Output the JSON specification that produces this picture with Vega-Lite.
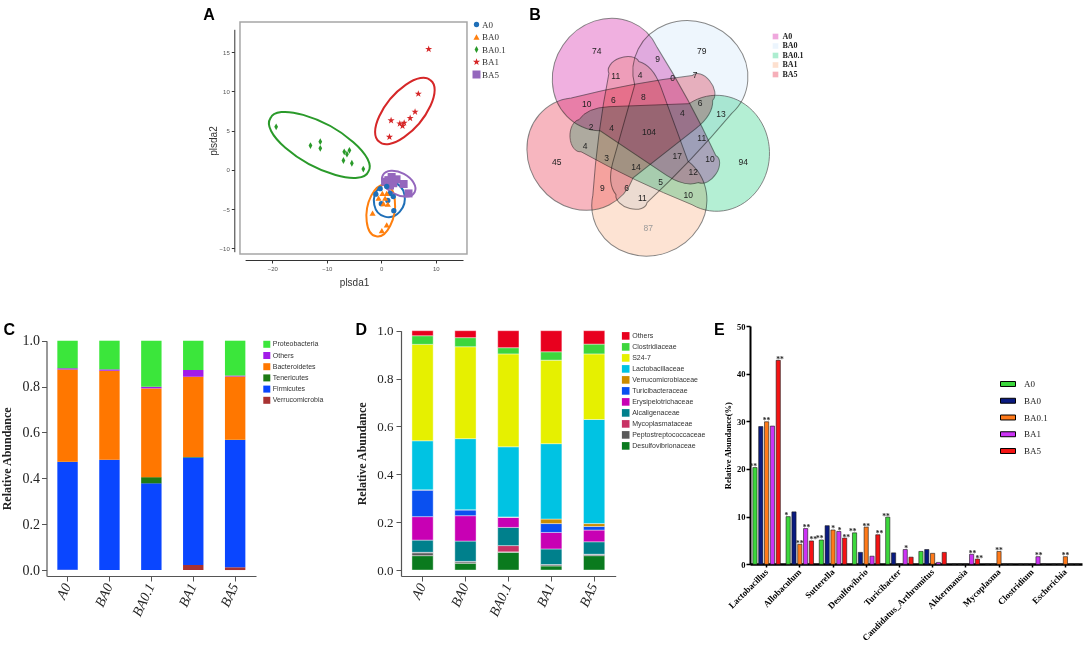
{
"$schema": "https://vega.github.io/schema/vega-lite/v6.json",
"width": 1084, "height": 652, "autosize": {"type": "none"}, "padding": 0, "background": "white",
"config": {"view": {"stroke": null}, "axis": {"grid": false}, "legend": {"padding": 0, "titlePadding": 0}},
"resolve": {
  "scale": {"x": "independent", "y": "independent", "color": "independent", "fill": "independent", "shape": "independent", "size": "independent", "angle": "independent", "xOffset": "independent"},
  "axis": {"x": "independent", "y": "independent"},
  "legend": {"color": "independent", "fill": "independent", "shape": "independent", "size": "independent"}
},
"datasets": {
  "apts": [
    {"g":"BA0.1","x":-19.3,"y":5.5},{"g":"BA0.1","x":-13.0,"y":3.1},{"g":"BA0.1","x":-11.2,"y":3.6},{"g":"BA0.1","x":-11.2,"y":2.75},{"g":"BA0.1","x":-6.8,"y":2.3},{"g":"BA0.1","x":-5.85,"y":2.5},{"g":"BA0.1","x":-6.3,"y":2.0},{"g":"BA0.1","x":-6.95,"y":1.2},{"g":"BA0.1","x":-5.4,"y":0.85},{"g":"BA0.1","x":-3.3,"y":0.1},
    {"g":"BA1","x":8.7,"y":15.4},{"g":"BA1","x":6.8,"y":9.7},{"g":"BA1","x":6.2,"y":7.4},{"g":"BA1","x":5.3,"y":6.6},{"g":"BA1","x":4.2,"y":6.0},{"g":"BA1","x":3.4,"y":5.9},{"g":"BA1","x":3.9,"y":5.6},{"g":"BA1","x":1.8,"y":6.3},{"g":"BA1","x":1.5,"y":4.2},
    {"g":"BA5","x":1.9,"y":-0.9},{"g":"BA5","x":0.7,"y":-1.5},{"g":"BA5","x":2.2,"y":-1.7},{"g":"BA5","x":4.1,"y":-1.8},{"g":"BA5","x":5.0,"y":-3.0},{"g":"BA5","x":1.3,"y":-1.3},{"g":"BA5","x":2.8,"y":-1.2},{"g":"BA5","x":1.6,"y":-2.0},
    {"g":"A0","x":-0.2,"y":-2.4},{"g":"A0","x":1.0,"y":-2.1},{"g":"A0","x":-1.0,"y":-3.1},{"g":"A0","x":2.2,"y":-3.4},{"g":"A0","x":1.2,"y":-3.9},{"g":"A0","x":0.0,"y":-4.3},{"g":"A0","x":2.3,"y":-5.2},{"g":"A0","x":1.6,"y":-3.0},
    {"g":"BA0","x":0.2,"y":-3.0},{"g":"BA0","x":1.0,"y":-3.0},{"g":"BA0","x":0.7,"y":-3.6},{"g":"BA0","x":-0.5,"y":-3.6},{"g":"BA0","x":0.4,"y":-4.3},{"g":"BA0","x":1.2,"y":-4.35},{"g":"BA0","x":-1.6,"y":-5.5},{"g":"BA0","x":0.1,"y":-7.75},{"g":"BA0","x":1.0,"y":-7.0}
  ],
  "aell": [
    {"g":"A0","x":1.48,"y":-3.8},{"g":"BA0","x":-0.1,"y":-5.2},{"g":"BA0.1","x":-11.37,"y":3.18},{"g":"BA1","x":4.33,"y":7.51},{"g":"BA5","x":3.2,"y":-1.76}
  ],
  "vsets": [{"set":"A0"},{"set":"BA0"},{"set":"BA0.1"},{"set":"BA1"},{"set":"BA5"}],
  "vnum": [
    {"n":"74","vx":-52.3,"vy":-80.7},{"n":"79","vx":52.7,"vy":-80.7},{"n":"9","vx":8.7,"vy":-72.4},{"n":"11","vx":-33.3,"vy":-55.7},{"n":"4","vx":-9,"vy":-56.7},{"n":"0","vx":23.7,"vy":-54},{"n":"7","vx":46,"vy":-56.7},{"n":"10","vx":-62.3,"vy":-27.4},{"n":"6","vx":-35.7,"vy":-31.7},{"n":"8","vx":-5.7,"vy":-35},{"n":"6","vx":51,"vy":-28.4},{"n":"13","vx":72,"vy":-17.4},{"n":"4","vx":33.3,"vy":-18.4},{"n":"2","vx":-58,"vy":-5},{"n":"4","vx":-37.3,"vy":-3.4},{"n":"104","vx":0,"vy":0},{"n":"11","vx":52.7,"vy":6},{"n":"4","vx":-64,"vy":14},{"n":"3","vx":-42.3,"vy":26.6},{"n":"14","vx":-13,"vy":35.6},{"n":"17","vx":28.3,"vy":24.3},{"n":"10","vx":61,"vy":27.6},{"n":"94","vx":94.3,"vy":30},{"n":"45","vx":-92.3,"vy":30},{"n":"12","vx":44.3,"vy":40},{"n":"9","vx":-46.7,"vy":56},{"n":"6","vx":-22.3,"vy":56.6},{"n":"5","vx":11.7,"vy":50},{"n":"10","vx":39.3,"vy":63.3},{"n":"11","vx":-6.7,"vy":66.6},{"n":"87","vx":-0.7,"vy":96.6}
  ],
  "cphy": [
    {"s":"A0","t":"Verrucomicrobia","v":0.001},{"s":"A0","t":"Firmicutes","v":0.470},{"s":"A0","t":"Tenericutes","v":0.001},{"s":"A0","t":"Bacteroidetes","v":0.402},{"s":"A0","t":"Others","v":0.006},{"s":"A0","t":"Proteobacteria","v":0.120},
    {"s":"BA0","t":"Verrucomicrobia","v":0.0},{"s":"BA0","t":"Firmicutes","v":0.481},{"s":"BA0","t":"Tenericutes","v":0.0},{"s":"BA0","t":"Bacteroidetes","v":0.388},{"s":"BA0","t":"Others","v":0.006},{"s":"BA0","t":"Proteobacteria","v":0.125},
    {"s":"BA0.1","t":"Verrucomicrobia","v":0.0},{"s":"BA0.1","t":"Firmicutes","v":0.378},{"s":"BA0.1","t":"Tenericutes","v":0.027},{"s":"BA0.1","t":"Bacteroidetes","v":0.387},{"s":"BA0.1","t":"Others","v":0.007},{"s":"BA0.1","t":"Proteobacteria","v":0.201},
    {"s":"BA1","t":"Verrucomicrobia","v":0.022},{"s":"BA1","t":"Firmicutes","v":0.469},{"s":"BA1","t":"Tenericutes","v":0.002},{"s":"BA1","t":"Bacteroidetes","v":0.350},{"s":"BA1","t":"Others","v":0.029},{"s":"BA1","t":"Proteobacteria","v":0.128},
    {"s":"BA5","t":"Verrucomicrobia","v":0.012},{"s":"BA5","t":"Firmicutes","v":0.555},{"s":"BA5","t":"Tenericutes","v":0.001},{"s":"BA5","t":"Bacteroidetes","v":0.276},{"s":"BA5","t":"Others","v":0.004},{"s":"BA5","t":"Proteobacteria","v":0.152}
  ],
  "dfam": [
    {"s":"A0","t":"Desulfovibrionaceae","v":0.060},{"s":"A0","t":"Peptostreptococcaceae","v":0.012},{"s":"A0","t":"Mycoplasmataceae","v":0.002},{"s":"A0","t":"Alcaligenaceae","v":0.051},{"s":"A0","t":"Erysipelotrichaceae","v":0.098},{"s":"A0","t":"Turicibacteraceae","v":0.111},{"s":"A0","t":"Verrucomicrobiaceae","v":0.001},{"s":"A0","t":"Lactobacillaceae","v":0.205},{"s":"A0","t":"S24-7","v":0.403},{"s":"A0","t":"Clostridiaceae","v":0.036},{"s":"A0","t":"Others","v":0.021},
    {"s":"BA0","t":"Desulfovibrionaceae","v":0.028},{"s":"BA0","t":"Peptostreptococcaceae","v":0.006},{"s":"BA0","t":"Mycoplasmataceae","v":0.002},{"s":"BA0","t":"Alcaligenaceae","v":0.085},{"s":"BA0","t":"Erysipelotrichaceae","v":0.106},{"s":"BA0","t":"Turicibacteraceae","v":0.024},{"s":"BA0","t":"Verrucomicrobiaceae","v":0.001},{"s":"BA0","t":"Lactobacillaceae","v":0.297},{"s":"BA0","t":"S24-7","v":0.384},{"s":"BA0","t":"Clostridiaceae","v":0.038},{"s":"BA0","t":"Others","v":0.029},
    {"s":"BA0.1","t":"Desulfovibrionaceae","v":0.074},{"s":"BA0.1","t":"Peptostreptococcaceae","v":0.002},{"s":"BA0.1","t":"Mycoplasmataceae","v":0.026},{"s":"BA0.1","t":"Alcaligenaceae","v":0.076},{"s":"BA0.1","t":"Erysipelotrichaceae","v":0.042},{"s":"BA0.1","t":"Turicibacteraceae","v":0.001},{"s":"BA0.1","t":"Verrucomicrobiaceae","v":0.001},{"s":"BA0.1","t":"Lactobacillaceae","v":0.293},{"s":"BA0.1","t":"S24-7","v":0.388},{"s":"BA0.1","t":"Clostridiaceae","v":0.026},{"s":"BA0.1","t":"Others","v":0.071},
    {"s":"BA1","t":"Desulfovibrionaceae","v":0.017},{"s":"BA1","t":"Peptostreptococcaceae","v":0.005},{"s":"BA1","t":"Mycoplasmataceae","v":0.001},{"s":"BA1","t":"Alcaligenaceae","v":0.065},{"s":"BA1","t":"Erysipelotrichaceae","v":0.069},{"s":"BA1","t":"Turicibacteraceae","v":0.037},{"s":"BA1","t":"Verrucomicrobiaceae","v":0.019},{"s":"BA1","t":"Lactobacillaceae","v":0.315},{"s":"BA1","t":"S24-7","v":0.349},{"s":"BA1","t":"Clostridiaceae","v":0.035},{"s":"BA1","t":"Others","v":0.088},
    {"s":"BA5","t":"Desulfovibrionaceae","v":0.060},{"s":"BA5","t":"Peptostreptococcaceae","v":0.005},{"s":"BA5","t":"Mycoplasmataceae","v":0.001},{"s":"BA5","t":"Alcaligenaceae","v":0.052},{"s":"BA5","t":"Erysipelotrichaceae","v":0.049},{"s":"BA5","t":"Turicibacteraceae","v":0.015},{"s":"BA5","t":"Verrucomicrobiaceae","v":0.012},{"s":"BA5","t":"Lactobacillaceae","v":0.435},{"s":"BA5","t":"S24-7","v":0.274},{"s":"BA5","t":"Clostridiaceae","v":0.041},{"s":"BA5","t":"Others","v":0.056}
  ],
  "egen": [
    {"k":"Lactobacillus","g":"A0","v":20.3,"sig":"**"},{"k":"Lactobacillus","g":"BA0","v":28.9,"sig":""},{"k":"Lactobacillus","g":"BA0.1","v":29.9,"sig":"**"},{"k":"Lactobacillus","g":"BA1","v":29.0,"sig":""},{"k":"Lactobacillus","g":"BA5","v":42.8,"sig":"**"},
    {"k":"Allobaculum","g":"A0","v":10.0,"sig":"*"},{"k":"Allobaculum","g":"BA0","v":11.0,"sig":""},{"k":"Allobaculum","g":"BA0.1","v":4.2,"sig":"**"},{"k":"Allobaculum","g":"BA1","v":7.5,"sig":"**"},{"k":"Allobaculum","g":"BA5","v":4.9,"sig":"**"},
    {"k":"Sutterella","g":"A0","v":5.1,"sig":"**"},{"k":"Sutterella","g":"BA0","v":8.1,"sig":""},{"k":"Sutterella","g":"BA0.1","v":7.2,"sig":"*"},{"k":"Sutterella","g":"BA1","v":6.9,"sig":"*"},{"k":"Sutterella","g":"BA5","v":5.5,"sig":"**"},
    {"k":"Desulfovibrio","g":"A0","v":6.6,"sig":"**"},{"k":"Desulfovibrio","g":"BA0","v":2.5,"sig":""},{"k":"Desulfovibrio","g":"BA0.1","v":7.8,"sig":"**"},{"k":"Desulfovibrio","g":"BA1","v":1.7,"sig":""},{"k":"Desulfovibrio","g":"BA5","v":6.2,"sig":"**"},
    {"k":"Turicibacter","g":"A0","v":9.9,"sig":"**"},{"k":"Turicibacter","g":"BA0","v":2.4,"sig":""},{"k":"Turicibacter","g":"BA0.1","v":0,"sig":""},{"k":"Turicibacter","g":"BA1","v":3.1,"sig":"*"},{"k":"Turicibacter","g":"BA5","v":1.5,"sig":""},
    {"k":"Candidatus_Arthromitus","g":"A0","v":2.7,"sig":""},{"k":"Candidatus_Arthromitus","g":"BA0","v":3.1,"sig":""},{"k":"Candidatus_Arthromitus","g":"BA0.1","v":2.3,"sig":""},{"k":"Candidatus_Arthromitus","g":"BA1","v":0.4,"sig":""},{"k":"Candidatus_Arthromitus","g":"BA5","v":2.5,"sig":""},
    {"k":"Akkermansia","g":"A0","v":0,"sig":""},{"k":"Akkermansia","g":"BA0","v":0,"sig":""},{"k":"Akkermansia","g":"BA0.1","v":0,"sig":""},{"k":"Akkermansia","g":"BA1","v":2.1,"sig":"**"},{"k":"Akkermansia","g":"BA5","v":1.1,"sig":"**"},
    {"k":"Mycoplasma","g":"A0","v":0,"sig":""},{"k":"Mycoplasma","g":"BA0","v":0,"sig":""},{"k":"Mycoplasma","g":"BA0.1","v":2.7,"sig":"**"},{"k":"Mycoplasma","g":"BA1","v":0,"sig":""},{"k":"Mycoplasma","g":"BA5","v":0,"sig":""},
    {"k":"Clostridium","g":"A0","v":0,"sig":""},{"k":"Clostridium","g":"BA0","v":0,"sig":""},{"k":"Clostridium","g":"BA0.1","v":0,"sig":""},{"k":"Clostridium","g":"BA1","v":1.6,"sig":"**"},{"k":"Clostridium","g":"BA5","v":0,"sig":""},
    {"k":"Escherichia","g":"A0","v":0,"sig":""},{"k":"Escherichia","g":"BA0","v":0,"sig":""},{"k":"Escherichia","g":"BA0.1","v":1.6,"sig":"**"},{"k":"Escherichia","g":"BA1","v":0,"sig":""},{"k":"Escherichia","g":"BA5","v":0,"sig":""}
  ]
},
"layer": [
  {
    "data": {"values": [{}]},
    "mark": {"type": "rect", "fill": "transparent", "stroke": "#a6a6a6", "strokeWidth": 1.5},
    "encoding": {
      "x": {"datum": -25.94, "type": "quantitative", "scale": {"domain": [-25, 15], "range": [245.1, 463], "nice": false, "zero": false}, "axis": null},
      "x2": {"datum": 15.73},
      "y": {"datum": -10.73, "type": "quantitative", "scale": {"domain": [-10.43, 17.93], "range": [251.7, 29.3], "nice": false, "zero": false}, "axis": null},
      "y2": {"datum": 18.86}
    }
  },
  {
    "data": {"name": "aell"},
    "mark": {"type": "point", "filled": false, "strokeWidth": 2, "opacity": 1, "size": 4},
    "encoding": {
      "x": {"field": "x", "type": "quantitative", "scale": {"domain": [-25, 15], "range": [245.1, 463], "nice": false, "zero": false}, "axis": null},
      "y": {"field": "y", "type": "quantitative", "scale": {"domain": [-10.43, 17.93], "range": [251.7, 29.3], "nice": false, "zero": false}, "axis": null},
      "color": {"field": "g", "type": "nominal", "scale": {"domain": ["A0", "BA0", "BA0.1", "BA1", "BA5"], "range": ["#1f6fb8", "#ff7f0e", "#2a9a2a", "#d62728", "#9467bd"]}, "legend": null},
      "shape": {"field": "g", "type": "nominal", "scale": {"domain": ["A0", "BA0", "BA0.1", "BA1", "BA5"], "range": [
        "M -4.53 16.9 A 17.5 15 -75 1 1 4.53 -16.9 A 17.5 15 -75 1 1 -4.53 16.9 Z",
        "M -4.51 25.6 A 26 13.5 -80 1 1 4.51 -25.6 A 26 13.5 -80 1 1 -4.51 25.6 Z",
        "M -49 -26.6 A 55.8 20.8 28.5 1 1 49 26.6 A 55.8 20.8 28.5 1 1 -49 -26.6 Z",
        "M -25.7 30.6 A 40 18 -50 1 1 25.7 -30.6 A 40 18 -50 1 1 -25.7 30.6 Z",
        "M -15.9 -8.45 A 18 11 28 1 1 15.9 8.45 A 18 11 28 1 1 -15.9 -8.45 Z"]}, "legend": null}
    }
  },
  {
    "data": {"name": "apts"},
    "mark": {"type": "point", "filled": true, "opacity": 1},
    "encoding": {
      "x": {"field": "x", "type": "quantitative", "scale": {"domain": [-25, 15], "range": [245.1, 463], "nice": false, "zero": false},
        "axis": {"orient": "bottom", "offset": -392, "values": [-20, -10, 0, 10], "labelFontSize": 6, "labelColor": "#555", "labelFont": "Liberation Sans", "tickSize": 3, "tickColor": "#333", "domainColor": "#333", "title": "plsda1", "titleFont": "Liberation Sans", "titleFontSize": 10, "titleFontWeight": "normal", "titleColor": "#333", "titlePadding": 6, "labelFlush": false}},
      "y": {"field": "y", "type": "quantitative", "scale": {"domain": [-10.43, 17.93], "range": [251.7, 29.3], "nice": false, "zero": false},
        "axis": {"orient": "left", "offset": -234.3, "values": [-10, -5, 0, 5, 10, 15], "labelFontSize": 6, "labelColor": "#555", "labelFont": "Liberation Sans", "tickSize": 3, "tickColor": "#333", "domainColor": "#333", "title": "plsda2", "titleFont": "Liberation Sans", "titleFontSize": 10, "titleFontWeight": "normal", "titleColor": "#333", "titlePadding": 1}},
      "color": {"field": "g", "type": "nominal", "scale": {"domain": ["A0", "BA0", "BA0.1", "BA1", "BA5"], "range": ["#1f6fb8", "#ff7f0e", "#2a9a2a", "#d62728", "#9467bd"]},
        "legend": {"orient": "none", "legendX": 472, "legendY": 20, "title": null, "labelFont": "Liberation Serif", "labelFontSize": 9, "labelColor": "#333", "labelOffset": 1, "rowPadding": 2.5, "symbolStrokeWidth": 0}},
      "shape": {"field": "g", "type": "nominal", "scale": {"domain": ["A0", "BA0", "BA0.1", "BA1", "BA5"], "range": ["circle", "triangle-up", "M0,-1L0.55,0L0,1L-0.55,0Z", "M0,-1L0.235,-0.324L0.951,-0.309L0.38,0.124L0.588,0.809L0,0.4L-0.588,0.809L-0.38,0.124L-0.951,-0.309L-0.235,-0.324Z", "square"]},
        "legend": {"orient": "none", "legendX": 472, "legendY": 20, "title": null, "labelFont": "Liberation Serif", "labelFontSize": 9, "labelColor": "#333", "labelOffset": 1, "rowPadding": 2.5, "symbolStrokeWidth": 0}},
      "size": {"field": "g", "type": "nominal", "scale": {"domain": ["A0", "BA0", "BA0.1", "BA1", "BA5"], "range": [28, 64, 120, 170, 32]},
        "legend": {"orient": "none", "legendX": 472, "legendY": 20, "title": null, "labelFont": "Liberation Serif", "labelFontSize": 9, "labelColor": "#333", "labelOffset": 1, "rowPadding": 2.5, "symbolStrokeWidth": 0}}
    }
  },
  {
    "data": {"values": [{}]},
    "mark": {"type": "text", "text": "A", "font": "Liberation Sans", "fontWeight": "bold", "fontSize": 16, "align": "center", "baseline": "alphabetic", "color": "#000"},
    "encoding": {
      "x": {"datum": -31.62, "type": "quantitative", "scale": {"domain": [-25, 15], "range": [245.1, 463], "nice": false, "zero": false}, "axis": null},
      "y": {"datum": 19.12, "type": "quantitative", "scale": {"domain": [-10.43, 17.93], "range": [251.7, 29.3], "nice": false, "zero": false}, "axis": null}
    }
  },
  {
    "data": {"name": "vsets"},
    "mark": {"type": "point", "filled": true, "size": 4, "blend": "multiply", "shape": "M -70 -12 Q -62 -24 -40 -25 L 40 -28 A 53 58 0 1 1 43 73 Q -14 50 -68 20 A 10 16 0 0 1 -70 -12 Z", "fillOpacity": 0.5, "stroke": "#6a6a6a", "strokeOpacity": 0.8, "strokeWidth": 1},
    "encoding": {
      "x": {"datum": 0, "type": "quantitative", "scale": {"domain": [-130, 130], "range": [519, 779], "nice": false, "zero": false}, "axis": null},
      "y": {"datum": 0, "type": "quantitative", "scale": {"domain": [-130, 130], "range": [1.7, 261.7], "nice": false, "zero": false}, "axis": null},
      "angle": {"field": "set", "type": "nominal", "scale": {"type": "point", "domain": ["BA0.1", "BA1", "BA5", "A0", "BA0"], "range": [0, 288], "padding": 0}, "legend": null},
      "fill": {"field": "set", "type": "nominal", "scale": {"domain": ["A0", "BA0", "BA0.1", "BA1", "BA5"], "range": ["#e161c1", "#ddedfb", "#69dfa9", "#fbc7a7", "#ef6d7f"]},
        "legend": {"orient": "none", "legendX": 771.5, "legendY": 32.5, "title": null, "symbolType": "square", "symbolSize": 32, "symbolStrokeWidth": 0, "symbolOpacity": 0.55, "labelFont": "Liberation Serif", "labelFontWeight": "bold", "labelFontSize": 8, "labelColor": "#222", "labelOffset": 3, "rowPadding": 1.5}}
    }
  },
  {
    "data": {"name": "vnum"},
    "mark": {"type": "text", "font": "Liberation Sans", "fontSize": 8.5, "align": "center", "baseline": "middle"},
    "encoding": {
      "x": {"field": "vx", "type": "quantitative", "scale": {"domain": [-130, 130], "range": [519, 779], "nice": false, "zero": false}, "axis": null},
      "y": {"field": "vy", "type": "quantitative", "scale": {"domain": [-130, 130], "range": [1.7, 261.7], "nice": false, "zero": false}, "axis": null},
      "text": {"field": "n"},
      "color": {"condition": {"test": "datum.n === '87'", "value": "#9a9a9a"}, "value": "#222"}
    }
  },
  {
    "data": {"values": [{}]},
    "mark": {"type": "text", "text": "B", "font": "Liberation Sans", "fontWeight": "bold", "fontSize": 16, "align": "center", "baseline": "alphabetic", "color": "#000"},
    "encoding": {
      "x": {"datum": -114, "type": "quantitative", "scale": {"domain": [-130, 130], "range": [519, 779], "nice": false, "zero": false}, "axis": null},
      "y": {"datum": -111.7, "type": "quantitative", "scale": {"domain": [-130, 130], "range": [1.7, 261.7], "nice": false, "zero": false}, "axis": null}
    }
  },
  {
    "data": {"name": "cphy"},
    "transform": [{"window": [{"op": "row_number", "as": "k"}], "groupby": ["s"]}],
    "mark": {"type": "bar"},
    "encoding": {
      "x": {"field": "s", "type": "nominal", "sort": null, "scale": {"domain": ["A0", "BA0", "BA0.1", "BA1", "BA5"], "range": [46.7, 256], "paddingInner": 0.513, "paddingOuter": 0.254},
        "axis": {"orient": "bottom", "offset": -76, "title": null, "labelAngle": -65, "labelAlign": "right", "labelBaseline": "middle", "labelFont": "Liberation Serif", "labelFontStyle": "italic", "labelFontSize": 14, "labelColor": "#222", "tickSize": 5, "tickColor": "#555", "domainColor": "#555", "domainWidth": 1.2, "labelPadding": 3}},
      "y": {"field": "v", "type": "quantitative", "stack": "zero", "scale": {"domain": [-0.026, 1], "range": [576, 340.7], "nice": false, "zero": false},
        "axis": {"orient": "left", "offset": -46.5, "values": [0, 0.2, 0.4, 0.6, 0.8, 1], "format": ".1f", "labelFont": "Liberation Serif", "labelFontSize": 14, "labelColor": "#222", "tickSize": 5, "tickColor": "#555", "domainColor": "#555", "domainWidth": 1.2, "labelPadding": 2, "title": "Relative Abundance", "titleFont": "Liberation Serif", "titleFontSize": 12, "titleFontWeight": "bold", "titleColor": "#222", "titlePadding": 9}},
      "order": {"field": "k", "type": "quantitative", "sort": "ascending"},
      "color": {"field": "t", "type": "nominal", "scale": {"domain": ["Proteobacteria", "Others", "Bacteroidetes", "Tenericutes", "Firmicutes", "Verrucomicrobia"], "range": ["#3be63b", "#a21ce8", "#ff7700", "#1e7a14", "#0a46ff", "#a83232"]},
        "legend": {"orient": "none", "legendX": 263.3, "legendY": 340.8, "title": null, "symbolType": "square", "symbolSize": 49, "symbolStrokeWidth": 0, "labelFont": "Liberation Sans", "labelFontSize": 7, "labelColor": "#333", "labelOffset": 2.5, "rowPadding": 3.2}}
    }
  },
  {
    "data": {"values": [{}]},
    "mark": {"type": "text", "text": "C", "font": "Liberation Sans", "fontWeight": "bold", "fontSize": 16, "align": "center", "baseline": "alphabetic", "color": "#000", "dx": -58.3},
    "encoding": {
      "x": {"datum": "A0", "type": "nominal", "scale": {"domain": ["A0", "BA0", "BA0.1", "BA1", "BA5"], "range": [46.7, 256], "paddingInner": 0.513, "paddingOuter": 0.254}, "axis": null},
      "y": {"datum": 1.025, "type": "quantitative", "scale": {"domain": [-0.026, 1], "range": [576, 340.7], "nice": false, "zero": false}, "axis": null}
    }
  },
  {
    "data": {"name": "dfam"},
    "transform": [{"window": [{"op": "row_number", "as": "k"}], "groupby": ["s"]}],
    "mark": {"type": "bar", "stroke": "white", "strokeWidth": 0.4},
    "encoding": {
      "x": {"field": "s", "type": "nominal", "sort": null, "scale": {"domain": ["A0", "BA0", "BA0.1", "BA1", "BA5"], "range": [401, 615.7], "paddingInner": 0.505, "paddingOuter": 0.255},
        "axis": {"orient": "bottom", "offset": -76, "title": null, "labelAngle": -65, "labelAlign": "right", "labelBaseline": "middle", "labelFont": "Liberation Serif", "labelFontStyle": "italic", "labelFontSize": 14, "labelColor": "#222", "tickSize": 5, "tickColor": "#555", "domainColor": "#555", "domainWidth": 1.2, "labelPadding": 3}},
      "y": {"field": "v", "type": "quantitative", "stack": "zero", "scale": {"domain": [-0.025, 1], "range": [576, 330.7], "nice": false, "zero": false},
        "axis": {"orient": "left", "offset": -401, "values": [0, 0.2, 0.4, 0.6, 0.8, 1], "format": ".1f", "labelFont": "Liberation Serif", "labelFontSize": 13, "labelColor": "#222", "tickSize": 5, "tickColor": "#555", "domainColor": "#555", "domainWidth": 1.2, "labelPadding": 3, "title": "Relative Abundance", "titleFont": "Liberation Serif", "titleFontSize": 12, "titleFontWeight": "bold", "titleColor": "#222", "titlePadding": 8}},
      "order": {"field": "k", "type": "quantitative", "sort": "ascending"},
      "color": {"field": "t", "type": "nominal", "scale": {"domain": ["Others", "Clostridiaceae", "S24-7", "Lactobacillaceae", "Verrucomicrobiaceae", "Turicibacteraceae", "Erysipelotrichaceae", "Alcaligenaceae", "Mycoplasmataceae", "Peptostreptococcaceae", "Desulfovibrionaceae"], "range": ["#e8001e", "#3dd63d", "#e6f000", "#00c3e3", "#cc8c00", "#0a50f0", "#c800b4", "#00808c", "#c83264", "#5a5a5a", "#0a7a1e"]},
        "legend": {"orient": "none", "legendX": 621.7, "legendY": 331.9, "title": null, "symbolType": "square", "symbolSize": 58, "symbolStrokeWidth": 0, "labelFont": "Liberation Sans", "labelFontSize": 7, "labelColor": "#333", "labelOffset": 2.5, "rowPadding": 3}}
    }
  },
  {
    "data": {"values": [{}]},
    "mark": {"type": "text", "text": "D", "font": "Liberation Sans", "fontWeight": "bold", "fontSize": 16, "align": "center", "baseline": "alphabetic", "color": "#000", "dx": -61.3},
    "encoding": {
      "x": {"datum": "A0", "type": "nominal", "scale": {"domain": ["A0", "BA0", "BA0.1", "BA1", "BA5"], "range": [401, 615.7], "paddingInner": 0.505, "paddingOuter": 0.255}, "axis": null},
      "y": {"datum": 0.982, "type": "quantitative", "scale": {"domain": [-0.025, 1], "range": [576, 330.7], "nice": false, "zero": false}, "axis": null}
    }
  },
  {
    "data": {"name": "egen"},
    "mark": {"type": "bar", "stroke": "#1a1a1a", "strokeWidth": 0.6},
    "encoding": {
      "x": {"field": "k", "type": "nominal", "sort": null, "scale": {"domain": ["Lactobacillus", "Allobaculum", "Sutterella", "Desulfovibrio", "Turicibacter", "Candidatus_Arthromitus", "Akkermansia", "Mycoplasma", "Clostridium", "Escherichia"], "range": [750, 1082], "paddingInner": 0, "paddingOuter": 0},
        "axis": {"orient": "bottom", "offset": -88, "title": null, "labelAngle": -45, "labelAlign": "right", "labelBaseline": "middle", "labelFont": "Liberation Serif", "labelFontWeight": "bold", "labelFontSize": 9, "labelColor": "#000", "labelPadding": 3, "labelLimit": 0, "labelOverlap": false, "tickSize": 3, "tickWidth": 1.5, "tickColor": "#000", "domainColor": "#000", "domainWidth": 2.5}},
      "xOffset": {"field": "g", "type": "nominal", "scale": {"domain": ["A0", "BA0", "BA0.1", "BA1", "BA5"], "paddingInner": 0.28, "paddingOuter": 0.49}},
      "y": {"field": "v", "type": "quantitative", "scale": {"domain": [0, 50], "range": [564.3, 326], "nice": false, "zero": false},
        "axis": {"orient": "left", "offset": -750, "values": [0, 10, 20, 30, 40, 50], "domainColor": "#000", "domainWidth": 2, "tickColor": "#000", "tickWidth": 1.5, "tickSize": 4, "labelFont": "Liberation Serif", "labelFontWeight": "bold", "labelFontSize": 8.5, "labelColor": "#000", "labelPadding": 1, "title": "Relative Abundance(%)", "titleFont": "Liberation Serif", "titleFontWeight": "bold", "titleFontSize": 8.5, "titleColor": "#000", "titlePadding": 4}},
      "color": {"field": "g", "type": "nominal", "scale": {"domain": ["A0", "BA0", "BA0.1", "BA1", "BA5"], "range": ["#3cd83c", "#0a1a80", "#ff7a1a", "#cc33f5", "#f51414"]},
        "legend": {"orient": "none", "legendX": 1000, "legendY": 376, "title": null, "symbolType": "M-1,-0.33H1V0.33H-1Z", "symbolSize": 225, "symbolStrokeColor": "#000", "symbolStrokeWidth": 1, "labelFont": "Liberation Serif", "labelFontSize": 9, "labelColor": "#222", "labelOffset": 8, "rowPadding": 3.75}}
    }
  },
  {
    "data": {"name": "egen"},
    "transform": [{"filter": "datum.sig !== ''"}],
    "mark": {"type": "text", "font": "Liberation Serif", "fontWeight": "bold", "fontSize": 7.5, "align": "center", "baseline": "alphabetic", "dy": 1.5, "color": "#222"},
    "encoding": {
      "x": {"field": "k", "type": "nominal", "sort": null, "scale": {"domain": ["Lactobacillus", "Allobaculum", "Sutterella", "Desulfovibrio", "Turicibacter", "Candidatus_Arthromitus", "Akkermansia", "Mycoplasma", "Clostridium", "Escherichia"], "range": [750, 1082], "paddingInner": 0, "paddingOuter": 0}, "axis": null},
      "xOffset": {"field": "g", "type": "nominal", "scale": {"domain": ["A0", "BA0", "BA0.1", "BA1", "BA5"], "paddingInner": 0.28, "paddingOuter": 0.49}},
      "y": {"field": "v", "type": "quantitative", "scale": {"domain": [0, 50], "range": [564.3, 326], "nice": false, "zero": false}, "axis": null},
      "text": {"field": "sig"}
    }
  },
  {
    "data": {"values": [{}]},
    "mark": {"type": "text", "text": "E", "font": "Liberation Sans", "fontWeight": "bold", "fontSize": 16, "align": "center", "baseline": "alphabetic", "color": "#000", "dx": -47.2},
    "encoding": {
      "x": {"datum": "Lactobacillus", "type": "nominal", "scale": {"domain": ["Lactobacillus", "Allobaculum", "Sutterella", "Desulfovibrio", "Turicibacter", "Candidatus_Arthromitus", "Akkermansia", "Mycoplasma", "Clostridium", "Escherichia"], "range": [750, 1082], "paddingInner": 0, "paddingOuter": 0}, "axis": null},
      "y": {"datum": 48.1, "type": "quantitative", "scale": {"domain": [0, 50], "range": [564.3, 326], "nice": false, "zero": false}, "axis": null}
    }
  }
]
}
